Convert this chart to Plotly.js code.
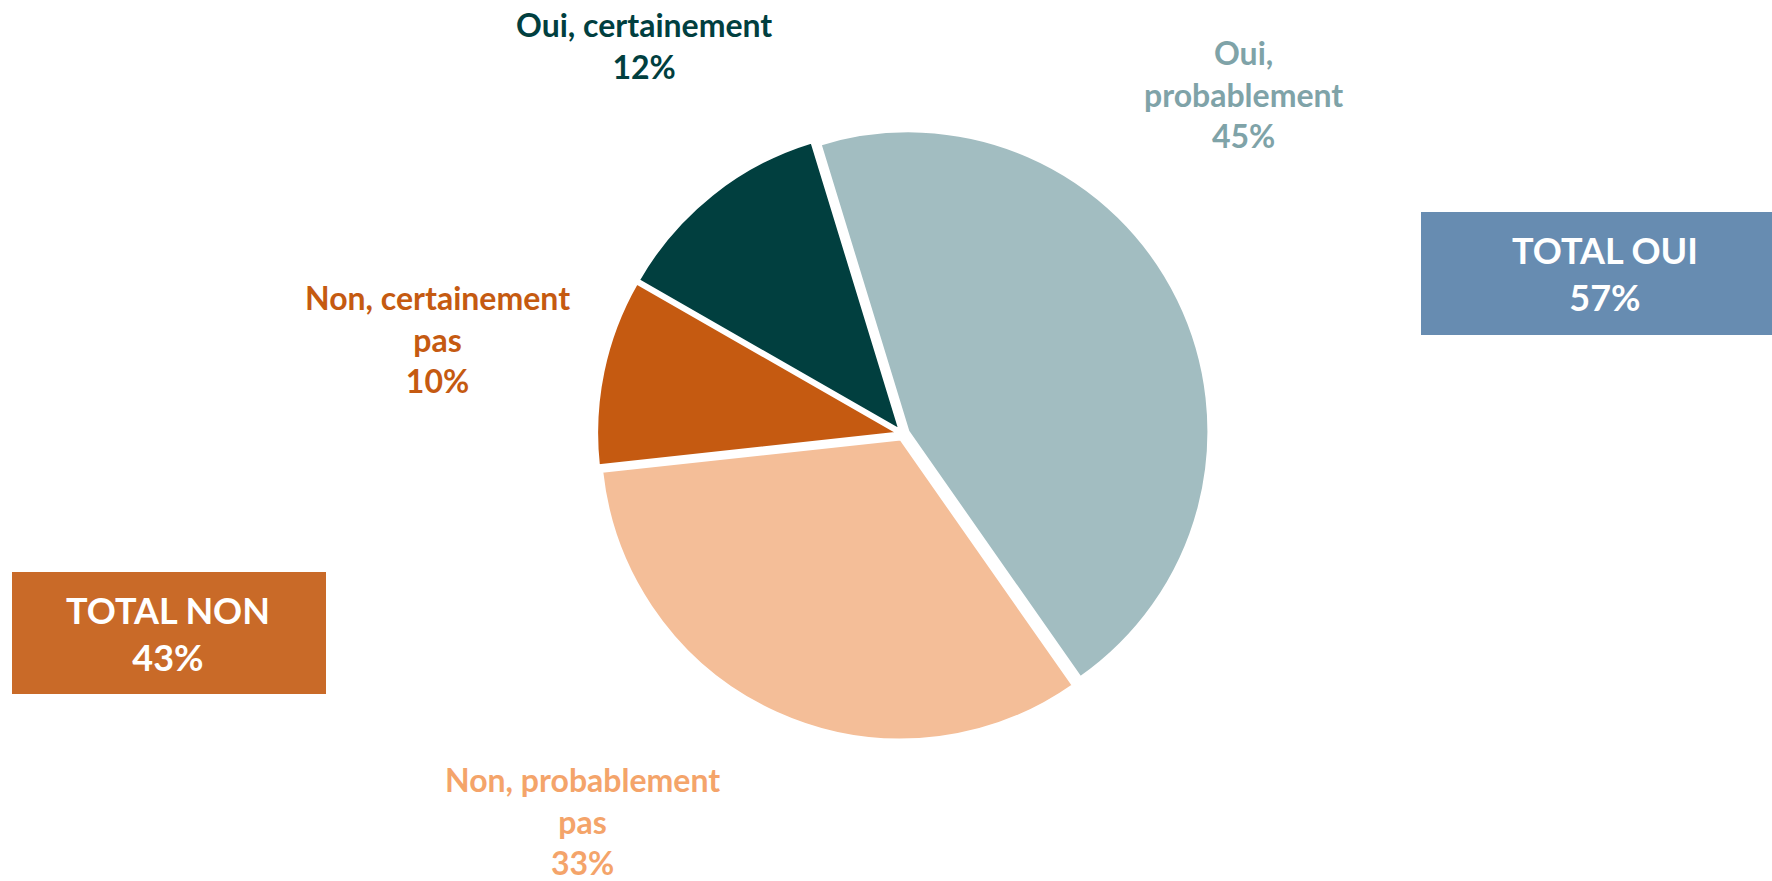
<!DOCTYPE html>
<html>
<head>
<meta charset="utf-8">
<script src="https://cdn.plot.ly/plotly-3.0.1.min.js"></script>
<style>html,body{margin:0;padding:0;background:#fff;}#chart{width:1772px;height:881px;}</style>
</head>
<body>
<div id="chart"></div>
<script>
// Data
const categories = ["Oui, probablement", "Non, probablement pas", "Non, certainement pas", "Oui, certainement"];
const labelLines = ["Oui,<br>probablement", "Non, probablement<br>pas", "Non, certainement<br>pas", "Oui, certainement"];
const values = [45, 33, 10, 12];
const sliceColors = ["#A2BDC1", "#F4BE98", "#C55A11", "#013F3F"];
const labelColors = ["#7FA3A8", "#F4A46A", "#C55A11", "#013F3F"];
const totalLabels = ["TOTAL OUI", "TOTAL NON"];
const totalValues = [values[0] + values[3], values[1] + values[2]];
const totalColors = ["#678CB1", "#C96A28"];

const W = 1772, H = 881;
const px = x => x / W;
const py = y => 1 - y / H;

// Label positions (pixels) for each slice label
const labelPos = [[1243, 94], [582, 821], [437, 339], [644, 46]];

const FONT = "Lato, 'Open Sans', sans-serif";

const annotations = categories.map((c, i) => ({
  xref: "paper", yref: "paper",
  x: px(labelPos[i][0]), y: py(labelPos[i][1]),
  xanchor: "center", yanchor: "middle",
  text: "<b>" + labelLines[i] + "<br>" + values[i] + "%</b>",
  showarrow: false,
  align: "center",
  font: {family: FONT, size: 32, color: labelColors[i]}
}));

const boxes = [
  {x0: 1421, x1: 1772, y0: 212, y1: 335, tx: 1605},
  {x0: 12, x1: 326, y0: 572, y1: 694, tx: 168}
];

const shapes = boxes.map((b, i) => ({
  type: "rect", xref: "paper", yref: "paper",
  x0: px(b.x0), x1: px(b.x1), y0: py(b.y1), y1: py(b.y0),
  fillcolor: totalColors[i], line: {width: 0}, layer: "below"
}));

boxes.forEach((b, i) => {
  annotations.push({
    xref: "paper", yref: "paper",
    x: px(b.tx), y: py((b.y0 + b.y1) / 2),
    xanchor: "center", yanchor: "middle",
    text: "<b>" + totalLabels[i] + "<br>" + totalValues[i] + "%</b>",
    showarrow: false, align: "center",
    font: {family: FONT, size: 36, color: "#FFFFFF"}
  });
});

const trace = {
  type: "pie",
  labels: categories,
  values: values,
  sort: false,
  direction: "clockwise",
  rotation: -17,
  pull: [0.02, 0.02, 0.02, 0.02],
  marker: {colors: sliceColors, line: {color: "#FFFFFF", width: 2}},
  textinfo: "none",
  hoverinfo: "label+percent",
  domain: {x: [px(596), px(1210)], y: [py(740), py(128)]},
  showlegend: false
};

const layout = {
  width: W, height: H,
  margin: {l: 0, r: 0, t: 0, b: 0},
  paper_bgcolor: "#FFFFFF",
  plot_bgcolor: "#FFFFFF",
  showlegend: false,
  shapes: shapes,
  annotations: annotations
};

Plotly.newPlot("chart", [trace], layout, {displayModeBar: false, staticPlot: true});
</script>
</body>
</html>
